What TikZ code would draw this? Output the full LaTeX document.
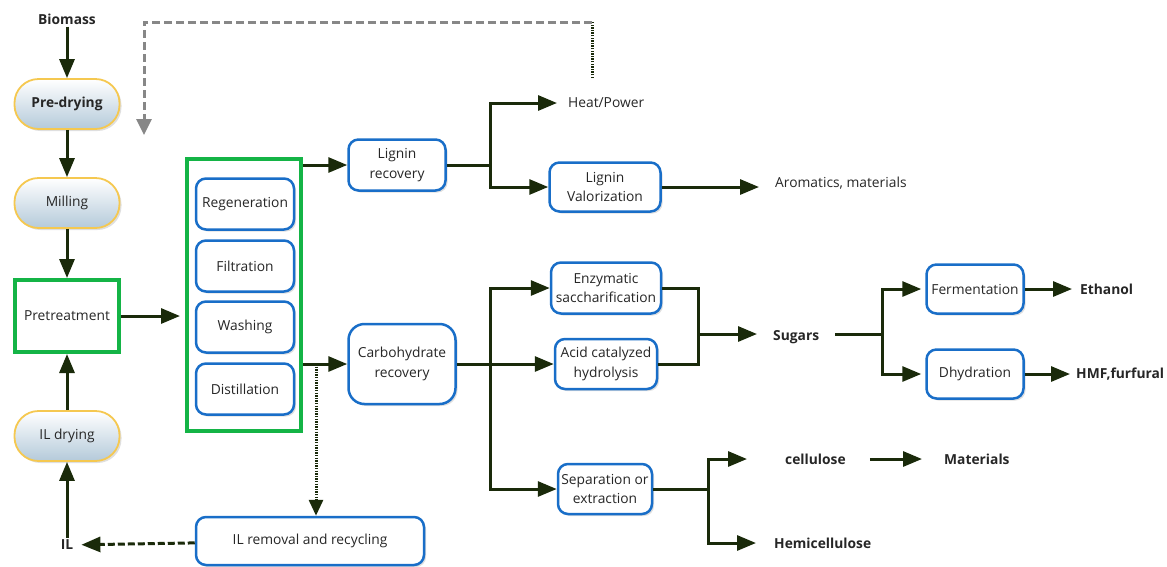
\documentclass[tikz,border=0pt]{standalone}
\usepackage{fontspec}
\setmainfont{Open Sans}
\usetikzlibrary{arrows.meta,shadows}
\definecolor{arrowc}{RGB}{26,42,10}
\definecolor{boxblue}{RGB}{25,110,200}
\definecolor{boxgreen}{RGB}{20,180,70}
\definecolor{pillrim}{RGB}{245,200,80}
\definecolor{pillfill}{RGB}{180,202,218}
\definecolor{loopgrey}{RGB}{135,135,135}
\newcommand{\nodefont}{\fontsize{13.8}{19.5}\selectfont}
\tikzset{
	flow/.style={draw=arrowc, line width=3pt, -{Triangle[length=19pt,width=15pt]}},
	link/.style={draw=arrowc, line width=3pt},
	dotline/.style={draw=arrowc, line width=3pt, dash pattern=on 1.4pt off 1.2pt},
	dotflow/.style={dotline, -{Triangle[length=16pt,width=14pt]}},
	dashflow/.style={draw=arrowc, line width=3pt, dash pattern=on 7pt off 3pt, -{Triangle[length=19pt,width=15pt]}},
	greyflow/.style={draw=loopgrey, line width=3pt, dash pattern=on 8pt off 4pt, -{Triangle[length=16pt,width=15pt]}},
	txt/.style={font=\nodefont, text=black!85, inner sep=2pt},
	tag/.style={font=\nodefont\bfseries, text=black!85, inner sep=2pt},
	pill/.style={draw=pillrim, line width=1.8pt, rounded corners=24pt, top color=white, bottom color=pillfill,
		minimum width=105pt, minimum height=50pt, inner sep=0pt, font=\nodefont, text=black!85,
		drop shadow={shadow xshift=2pt, shadow yshift=-2pt, opacity=0.25}},
	box/.style={draw=boxblue, line width=2.5pt, rounded corners=10pt, fill=white, align=center,
		inner sep=0pt, font=\nodefont, text=black!85,
		drop shadow={shadow xshift=2pt, shadow yshift=-2pt, opacity=0.25}},
	greenbox/.style={draw=boxgreen, line width=4pt, fill=white, inner sep=0pt, font=\nodefont, text=black!85}
}
\begin{document}
\begin{tikzpicture}[x=1pt, y=-1pt]
		%%%%% START %%%%%
		\useasboundingbox (0,0) rectangle (1167,566);
		
		% left column
		\node[tag] (biomass) at (67,19) {Biomass};
		\node[pill, font=\nodefont\bfseries] (predry) at (67,104) {Pre-drying};
		\node[pill] (mill) at (67,203) {Milling};
		\node[greenbox, minimum width=104pt, minimum height=72pt] (pretreat) at (67,316) {Pretreatment};
		\node[pill] (ildry) at (67,436) {IL drying};
		\node[tag] (il) at (67,545) {IL};
		
		\draw[flow] (biomass) -- (predry);
		\draw[flow] (predry) -- (mill);
		\draw[flow] (mill) -- (pretreat);
		\draw[flow] (ildry) -- (pretreat);
		\draw[flow] (il) -- (ildry);
		
		% separation unit
		\node[greenbox, minimum width=114pt, minimum height=272pt] (sepunit) at (244,295) {};
		\node[box, minimum width=98pt, minimum height=51pt] (regen) at (245,204) {Regeneration};
		\node[box, minimum width=98pt, minimum height=51pt] (filt) at (245,266) {Filtration};
		\node[box, minimum width=98pt, minimum height=51pt] (wash) at (245,327) {Washing};
		\node[box, minimum width=98pt, minimum height=51pt] (distil) at (245,389) {Distillation};
		
		\draw[flow, shorten >=5pt] (pretreat) -- (pretreat -| sepunit.west);
		
		% lignin branch
		\node[box, minimum width=97pt, minimum height=51pt] (lrec) at (397,165) {Lignin\\recovery};
		\node[box, minimum width=111pt, minimum height=49pt] (lval) at (605,187) {Lignin\\Valorization};
		\node[txt, anchor=west] (heat) at (566,103) {Heat/Power};
		\node[txt, anchor=west] (arom) at (773,183) {Aromatics, materials};
		\coordinate (jl) at (490,165);
		
		\draw[flow] (sepunit.east |- lrec) -- (lrec);
		\draw[link] (lrec) -- (jl);
		\draw[flow, shorten >=9pt] (jl) |- (heat);
		\draw[flow] (jl) |- (lval);
		\draw[flow, shorten >=14pt] (lval) -- (lval -| arom.west);
		
		% carbohydrate branch
		\node[box, rounded corners=16pt, minimum width=107pt, minimum height=80pt] (crec) at (402,364) {Carbohydrate\\recovery};
		\node[box, minimum width=110pt, minimum height=51pt] (enz) at (606,288) {Enzymatic\\saccharification};
		\node[box, minimum width=102pt, minimum height=50pt] (acid) at (606,364) {Acid catalyzed\\hydrolysis};
		\node[box, minimum width=94pt, minimum height=50pt] (sepx) at (605,489) {Separation or\\extraction};
		\coordinate (jc) at (490,364);
		
		\draw[flow] (sepunit.east |- crec) -- (crec);
		\draw[link] (crec) -- (jc);
		\draw[flow] (jc) |- (enz);
		\draw[flow] (jc) -- (acid);
		\draw[flow] (jc) |- (sepx);
		
		% sugars
		\node[tag, anchor=west] (sugars) at (771,337) {Sugars};
		\node[box, minimum width=97pt, minimum height=49pt] (ferm) at (975,289) {Fermentation};
		\node[box, minimum width=97pt, minimum height=49pt] (dhyd) at (975,374) {Dhydration};
		\node[tag, anchor=west] (ethanol) at (1078,289) {Ethanol};
		\node[tag, anchor=west] (hmf) at (1074,374) {HMF,furfural};
		\coordinate (js) at (698,334);
		\coordinate (jf) at (882,334);
		
		\draw[link] (enz) -| (js);
		\draw[link] (acid) -| (js);
		\draw[flow, shorten >=14pt] (js) -- (js -| sugars.west);
		\draw[link] (sugars.east |- jf) ++(14,0) -- (jf);
		\draw[flow, shorten >=4pt] (jf) |- (ferm);
		\draw[flow, shorten >=4pt] (jf) |- (dhyd);
		\draw[flow, shorten >=6pt] (ferm) -- (ethanol);
		\draw[flow, shorten >=4pt] (dhyd) -- (hmf);
		
		% cellulose and hemicellulose
		\node[tag, anchor=west] (cell) at (783,459) {cellulose};
		\node[tag, anchor=west] (mat) at (942,459) {Materials};
		\node[tag, anchor=west] (hemi) at (772,543) {Hemicellulose};
		\coordinate (jx) at (708,489);
		
		\draw[link] (sepx) -- (jx);
		\draw[flow, shorten >=36pt] (jx) |- (cell);
		\draw[flow, shorten >=16pt] (jx) |- (hemi);
		\draw[flow, shorten <=22pt, shorten >=20pt] (cell) -- (mat);
		
		% ionic liquid recycle
		\node[box, minimum width=228pt, minimum height=48pt] (ilrem) at (310,541) {IL removal and recycling};
		\coordinate (jd) at (316,364);
		
		\draw[dotflow] (jd) -- (jd |- ilrem.north);
		\draw[dashflow, shorten >=6pt] (ilrem) -- (il);
		
		% heat loop back
		\coordinate (loopstart) at (592,78);
		\coordinate (looptop) at (592,22);
		\coordinate (loopend) at (144,135);
		\draw[dotline] (loopstart) -- (looptop);
		\draw[greyflow] (looptop) -| (loopend);
		
		%%%%% END %%%%%
\end{tikzpicture}
\end{document}
